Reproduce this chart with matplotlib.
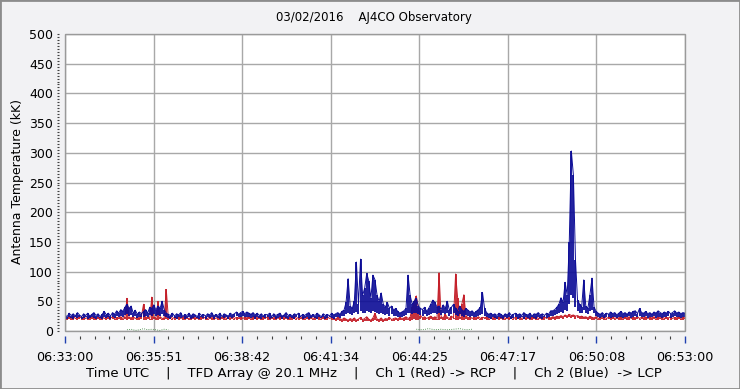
import matplotlib
matplotlib.use("Agg")
import matplotlib.pyplot as plt
import numpy as np
from matplotlib.ticker import MultipleLocator, AutoMinorLocator
from matplotlib.patches import Rectangle

# seconds after 06:33:00, one bin every 4 s; each bin has a high and low reading
step_s = 4

# Ch 2 (Blue) -> LCP, antenna temperature in kK (bin maxima)
ch2_hi = [
    27, 24, 30, 26, 29, 25, 31, 27, 24, 29,
    26, 30, 25, 28, 31, 26, 29, 24, 28, 33,
    27, 30, 25, 31, 28, 34, 30, 36, 33, 40,
    45, 38, 42, 30, 35, 28, 32, 29, 33, 36,
    30, 40, 38, 44, 35, 42, 38, 50, 36, 30,
    28, 26, 30, 25, 29, 27, 31, 24, 28, 26,
    30, 25, 29, 27, 24, 30, 26, 28, 25, 29,
    27, 31, 25, 28, 26, 30, 24, 29, 27, 25,
    30, 27, 29, 32, 28, 31, 33, 29, 32, 30,
    28, 31, 27, 30, 26, 29, 25, 28, 27, 30,
    24, 29, 26, 28, 30, 25, 27, 31, 26, 28,
    25, 29, 27, 30, 24, 28, 26, 29, 31, 25,
    28, 26, 30, 27, 24, 29, 26, 28, 25, 30,
    27, 29, 31, 28, 33, 35, 48, 88, 42, 38,
    50, 116, 45, 121, 60, 72, 97, 84, 55, 94,
    86, 60, 50, 64, 45, 40, 48, 38, 42, 35,
    38, 33, 30, 32, 34, 38, 94, 60, 45, 50,
    55, 42, 38, 36, 40, 33, 38, 45, 52, 48,
    40, 42, 36, 44, 38, 50, 35, 40, 45, 38,
    34, 42, 36, 33, 38, 35, 32, 34, 30, 33,
    36, 40, 65, 38, 31, 28, 30, 27, 29, 26,
    30, 28, 25, 29, 27, 31, 26, 28, 30, 27,
    29, 26, 31, 28, 27, 30, 25, 29, 28, 31,
    27, 29, 26, 30, 28, 34, 34, 36, 40, 45,
    56, 48, 82, 60, 150, 303, 262, 120, 52, 45,
    40, 86, 42, 38, 61, 89, 40, 33, 30, 28,
    31, 27, 30, 28, 32, 29, 31, 27, 30, 33,
    29, 31, 28, 32, 30, 33, 34, 29, 38, 31,
    30, 33, 29, 31, 28, 32, 30, 34, 31, 29,
    32, 30, 33, 29, 31, 34, 30, 32, 29, 31, 30,
]

# Ch 2 bin minima
ch2_lo = [
    22, 21, 23, 22, 21, 23, 22, 24, 21, 22,
    23, 21, 22, 24, 22, 21, 23, 22, 21, 23,
    22, 24, 21, 23, 22, 25, 23, 26, 24, 27,
    28, 26, 27, 23, 25, 22, 24, 23, 24, 26,
    23, 27, 26, 28, 25, 27, 26, 29, 25, 23,
    22, 21, 23, 22, 21, 23, 22, 24, 21, 22,
    23, 21, 22, 24, 22, 21, 23, 22, 21, 23,
    22, 24, 21, 23, 22, 21, 23, 22, 24, 21,
    23, 22, 24, 25, 23, 24, 25, 23, 24, 23,
    22, 24, 21, 23, 22, 21, 23, 22, 24, 21,
    22, 23, 21, 22, 24, 21, 23, 22, 21, 23,
    22, 21, 23, 22, 24, 21, 22, 23, 21, 22,
    23, 22, 21, 23, 22, 24, 21, 22, 23, 22,
    21, 23, 24, 22, 25, 26, 28, 30, 29, 27,
    30, 32, 29, 33, 31, 30, 34, 32, 30, 33,
    32, 30, 29, 31, 28, 27, 29, 26, 28, 25,
    26, 24, 23, 24, 25, 27, 30, 31, 29, 30,
    31, 29, 27, 26, 28, 25, 27, 29, 30, 31,
    29, 30, 27, 31, 28, 30, 26, 28, 30, 27,
    25, 28, 26, 24, 27, 25, 24, 25, 23, 24,
    25, 27, 29, 26, 23, 22, 21, 23, 22, 21,
    23, 22, 21, 24, 22, 23, 21, 22, 24, 21,
    22, 23, 21, 24, 22, 21, 23, 22, 21, 24,
    22, 21, 23, 22, 24, 25, 26, 27, 29, 30,
    32, 31, 35, 34, 45, 60, 55, 40, 33, 31,
    30, 35, 31, 29, 33, 36, 30, 25, 23, 22,
    23, 22, 24, 23, 22, 24, 23, 22, 24, 23,
    22, 24, 23, 25, 22, 24, 25, 23, 26, 24,
    23, 25, 22, 24, 23, 25, 22, 24, 23, 22,
    24, 23, 25, 22, 24, 25, 23, 24, 22, 23, 24,
]

# Ch 1 (Red) -> RCP (bin maxima)
ch1_hi = [
    23, 21, 24, 22, 25, 21, 23, 24, 22, 24,
    21, 23, 25, 22, 24, 21, 23, 22, 24, 21,
    23, 25, 22, 24, 21, 23, 22, 24, 21, 24,
    55, 23, 22, 24, 21, 23, 22, 25, 45, 22,
    24, 21, 57, 23, 22, 50, 24, 21, 22, 70,
    22, 24, 21, 23, 22, 24, 21, 23, 25, 22,
    21, 23, 24, 22, 23, 21, 24, 22, 23, 21,
    24, 22, 23, 21, 24, 22, 23, 25, 21, 23,
    22, 24, 21, 23, 22, 24, 21, 23, 22, 24,
    21, 23, 25, 22, 24, 21, 23, 22, 24, 21,
    23, 22, 24, 21, 23, 25, 22, 24, 21, 23,
    22, 24, 21, 23, 22, 24, 21, 23, 22, 24,
    21, 23, 22, 24, 21, 23, 22, 24, 21, 23,
    22, 20, 23, 21, 19, 22, 20, 18, 21, 19,
    22, 18, 20, 23, 19, 21, 24, 20, 18, 22,
    30, 20, 19, 22, 18, 21, 20, 23, 19, 21,
    22, 20, 23, 21, 22, 24, 21, 23, 40, 50,
    59, 38, 26, 22, 24, 21, 23, 25, 22, 24,
    21, 98, 24, 22, 28, 23, 21, 25, 22, 96,
    55, 24, 45, 61, 26, 22, 24, 21, 23, 22,
    24, 21, 23, 22, 24, 21, 23, 22, 24, 21,
    23, 22, 24, 21, 23, 22, 24, 21, 23, 22,
    24, 21, 23, 22, 24, 21, 23, 22, 24, 21,
    23, 22, 24, 21, 23, 22, 24, 23, 25, 24,
    26, 24, 27, 25, 28, 26, 27, 25, 26, 24,
    25, 23, 24, 22, 25, 23, 22, 24, 21, 23,
    22, 24, 21, 23, 22, 24, 21, 23, 22, 24,
    21, 23, 22, 24, 21, 23, 22, 24, 21, 23,
    22, 24, 21, 23, 22, 24, 21, 23, 22, 24,
    21, 23, 22, 24, 21, 23, 22, 24, 21, 23, 22,
]

# Ch 1 bin minima
ch1_lo = [
    19, 18, 20, 19, 18, 20, 19, 21, 18, 19,
    20, 18, 19, 21, 19, 18, 20, 19, 18, 20,
    19, 21, 18, 20, 19, 18, 20, 19, 18, 20,
    19, 20, 18, 19, 20, 18, 19, 21, 18, 19,
    20, 18, 19, 20, 18, 19, 20, 18, 19, 20,
    18, 20, 19, 18, 20, 19, 21, 18, 19, 20,
    19, 18, 20, 19, 21, 18, 19, 20, 18, 19,
    20, 19, 18, 20, 19, 18, 21, 19, 18, 20,
    19, 20, 18, 19, 21, 18, 20, 19, 18, 20,
    18, 19, 21, 18, 20, 19, 18, 20, 19, 18,
    20, 19, 18, 20, 19, 21, 18, 20, 19, 18,
    19, 20, 18, 19, 20, 18, 19, 21, 18, 20,
    18, 19, 20, 18, 19, 21, 18, 19, 20, 18,
    18, 17, 18, 16, 15, 17, 16, 15, 17, 15,
    16, 15, 17, 18, 15, 16, 17, 16, 15, 17,
    18, 16, 15, 17, 15, 16, 17, 18, 16, 17,
    18, 17, 19, 18, 17, 19, 18, 17, 19, 20,
    19, 18, 20, 19, 18, 20, 19, 21, 18, 19,
    18, 19, 20, 18, 19, 20, 18, 19, 20, 18,
    19, 20, 18, 19, 20, 18, 19, 21, 18, 19,
    20, 18, 19, 20, 18, 19, 20, 18, 19, 20,
    18, 20, 19, 18, 20, 19, 21, 18, 19, 20,
    19, 18, 20, 19, 21, 18, 19, 20, 18, 19,
    20, 19, 18, 20, 19, 18, 21, 19, 20, 21,
    22, 21, 23, 22, 23, 22, 23, 21, 22, 21,
    21, 20, 21, 19, 20, 19, 18, 20, 19, 18,
    20, 19, 18, 20, 19, 21, 18, 20, 19, 18,
    19, 20, 18, 19, 20, 18, 19, 21, 18, 20,
    18, 19, 20, 18, 19, 21, 18, 19, 20, 18,
    19, 20, 18, 19, 20, 18, 19, 21, 18, 19, 20,
]

# faint third channel, only visible in two stretches
ch3_t1 = [120, 128, 136, 144, 152, 160, 168, 176, 184, 192, 200]
ch3_v1 = [2, 3, 1, 2, 4, 2, 3, 2, 1, 3, 2]
ch3_t2 = [680, 692, 704, 716, 728, 740, 752, 764, 776, 788]
ch3_v2 = [3, 2, 4, 2, 3, 2, 3, 4, 2, 3]

tick_labels = ["06:33:00", "06:35:51", "06:38:42", "06:41:34",
               "06:44:25", "06:47:17", "06:50:08", "06:53:00"]

t = np.arange(len(ch2_hi)) * step_s

red = "#c41e28"
blue = "#0c0c96"
bg = "#f2f2f4"

fig = plt.figure(figsize=(7.4, 3.89), dpi=100, facecolor=bg)
ax = fig.add_axes([65 / 740, 58 / 389, 620 / 740, 297 / 389])
ax.set_facecolor("white")

ax.vlines(t, ch1_lo, ch1_hi, color=red, lw=1.3, zorder=3)
ax.plot(t, ch1_hi, color=red, lw=0.7, zorder=3)
ax.vlines(t, ch2_lo, ch2_hi, color=blue, lw=1.3, zorder=4)
ax.plot(t, ch2_hi, color=blue, lw=0.7, zorder=4)
ax.plot(ch3_t1, ch3_v1, color="#2e7d32", lw=0.6, ls=":", zorder=2)
ax.plot(ch3_t2, ch3_v2, color="#2e7d32", lw=0.6, ls=":", zorder=2)

ax.set_xlim(0, 1200)
ax.set_ylim(0, 500)

# ticks detached from the plot frame
for side in ["top", "right", "left", "bottom"]:
    ax.spines[side].set_visible(False)
ax.spines["left"].set_position(("outward", 4.3))
ax.spines["bottom"].set_position(("outward", 3.6))
ax.add_patch(Rectangle((0, 0), 1, 1, transform=ax.transAxes, fill=False,
                       edgecolor="#9a9a9a", lw=1.0, clip_on=False, zorder=5))

ax.set_xticks(np.linspace(0, 1200, len(tick_labels)))
ax.set_xticklabels(tick_labels)
ax.xaxis.set_minor_locator(AutoMinorLocator(6))
ax.tick_params(axis="x", which="major", length=5, width=1.0, color="#2040b0",
               pad=6, labelsize=9.2)
ax.tick_params(axis="x", which="minor", length=2.2, width=0.8, color="#404040")

ax.yaxis.set_major_locator(MultipleLocator(50))
ax.yaxis.set_minor_locator(MultipleLocator(5))
ax.tick_params(axis="y", which="both", length=1.5, width=0.8, color="#404040",
               pad=3, labelsize=9)

ax.grid(True, which="major", color="#a8a8a8", lw=1.0, zorder=0)
ax.set_axisbelow(True)

fig.text(374 / 740, 1 - 18 / 389, "03/02/2016    AJ4CO Observatory",
         ha="center", va="center", fontsize=8.5)
fig.text(18 / 740, 1 - 182 / 389, "Antenna Temperature (kK)", rotation=90,
         ha="center", va="center", fontsize=9)
fig.text(374 / 740, 1 - 373 / 389,
         "Time UTC    |    TFD Array @ 20.1 MHz    |    Ch 1 (Red) -> RCP    |    Ch 2 (Blue)  -> LCP",
         ha="center", va="center", fontsize=9.5)

fig.patches.append(Rectangle((0, 0), 1, 1, transform=fig.transFigure, fill=False,
                             edgecolor="#8c8c8c", lw=2.0, zorder=10))

fig.savefig("out.png", dpi=100, facecolor=bg)
